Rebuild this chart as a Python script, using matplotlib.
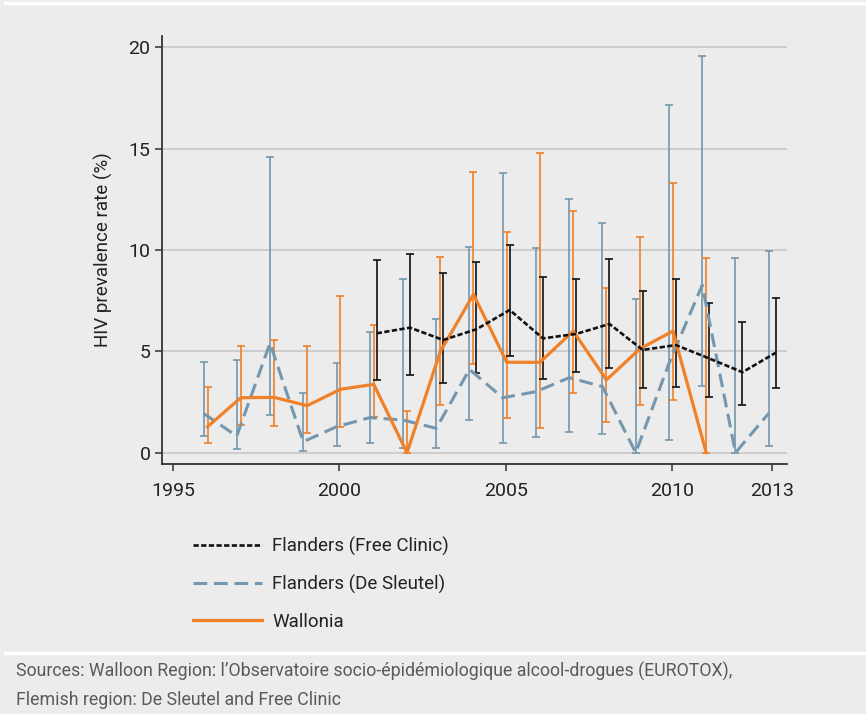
import matplotlib.pyplot as plt
import numpy as np
from matplotlib.lines import Line2D

# values (HIV prevalence %, with CI bounds)
fc_years = np.arange(2001, 2014)
fc = [5.89, 6.17, 5.56, 6.09, 7.04, 5.64, 5.86, 6.35, 5.07, 5.31, 4.65, 3.97, 4.93]
fc_lo = [3.60, 3.85, 3.45, 3.92, 4.79, 3.64, 3.97, 4.19, 3.21, 3.26, 2.76, 2.35, 3.21]
fc_hi = [9.51, 9.79, 8.85, 9.42, 10.25, 8.65, 8.58, 9.54, 8.00, 8.58, 7.40, 6.46, 7.65]

ds_years = np.arange(1996, 2014)
ds = [1.94, 0.82, 5.40, 0.54, 1.28, 1.73, 1.61, 1.20, 4.11, 2.71, 3.01, 3.70, 3.26, 0.0, 4.40, 8.27, 0.0, 1.94]
ds_lo = [0.84, 0.17, 1.84, 0.10, 0.35, 0.46, 0.25, 0.22, 1.61, 0.49, 0.79, 1.00, 0.91, 0.0, 0.63, 3.29, 0.0, 0.35]
ds_hi = [4.49, 4.57, 14.60, 2.96, 4.41, 5.97, 8.58, 6.58, 10.13, 13.81, 10.11, 12.52, 11.35, 7.57, 17.15, 19.57, 9.62, 9.95]

wa_years = np.arange(1996, 2012)
wa = [1.28, 2.71, 2.73, 2.32, 3.13, 3.37, 0.0, 4.98, 7.81, 4.46, 4.46, 6.00, 3.59, 5.12, 6.00, 0.0]
wa_lo = [0.49, 1.37, 1.33, 0.99, 1.25, 1.78, 0.0, 2.35, 4.36, 1.73, 1.23, 2.96, 1.53, 2.35, 2.60, 0.0]
wa_hi = [3.22, 5.26, 5.56, 5.28, 7.75, 6.30, 2.07, 9.67, 13.86, 10.87, 14.80, 11.92, 8.14, 10.62, 13.32, 9.62]

labels = ['Flanders (Free Clinic)', 'Flanders (De Sleutel)', 'Wallonia']
x_ticks = [1995, 2000, 2005, 2010, 2013]
y_ticks = [0, 5, 10, 15, 20]

BG = '#EBECEB'
C_FC = '#111111'
C_DS = '#7497AF'
C_WA = '#F08128'

plt.rcParams['font.family'] = ['Roboto', 'DejaVu Sans']

fig = plt.figure(figsize=(8.66, 7.14), dpi=100, facecolor=BG)
ax = fig.add_axes([0.1874, 0.3501, 0.7210, 0.5995])
ax.set_facecolor(BG)

def band(a, lo, hi):
    a, lo, hi = np.array(a), np.array(lo), np.array(hi)
    return [a - lo, hi - a]

ekw = dict(fmt='none', elinewidth=1.2, capsize=3.2, capthick=1.2)
ax.errorbar(ds_years - 0.09, ds, yerr=band(ds, ds_lo, ds_hi), ecolor=C_DS, zorder=2, **ekw)
ax.errorbar(wa_years + 0.03, wa, yerr=band(wa, wa_lo, wa_hi), ecolor=C_WA, zorder=3, **ekw)
ax.errorbar(fc_years + 0.12, fc, yerr=band(fc, fc_lo, fc_hi), ecolor=C_FC, zorder=4, **ekw)

ax.plot(ds_years - 0.09, ds, color=C_DS, lw=2.2, dashes=(4.5, 2.2), zorder=5)
ax.plot(wa_years + 0.03, wa, color=C_WA, lw=2.3, zorder=6)
ax.plot(fc_years + 0.12, fc, color=C_FC, lw=1.9, dashes=(2, 0.9), zorder=7)

ax.set_xlim(1994.67, 2013.45)
ax.set_ylim(-0.56, 20.56)
ax.set_xticks(x_ticks)
ax.set_yticks(y_ticks)
ax.yaxis.grid(True, color='#C9CAC9', lw=1.3)
ax.set_axisbelow(True)
for s in ['top', 'right']:
    ax.spines[s].set_visible(False)
for s in ['left', 'bottom']:
    ax.spines[s].set_color('#333333')
    ax.spines[s].set_linewidth(1.3)
ax.tick_params(axis='both', colors='#333333', labelcolor='#222222', labelsize=14,
               length=5, width=1.1)
ax.tick_params(axis='x', pad=8)
ax.set_ylabel('HIV prevalence rate (%)', fontsize=13.5, color='#222222', labelpad=11)

handles = [
    Line2D([], [], color=C_FC, lw=1.9, dashes=(2, 0.9)),
    Line2D([], [], color=C_DS, lw=2.2, dashes=(4.5, 2.2)),
    Line2D([], [], color=C_WA, lw=2.3),
]
fig.legend(handles, labels, loc='upper left', bbox_to_anchor=(0.203, 0.272),
           frameon=False, fontsize=13.5, handlelength=3.7, handletextpad=0.55,
           labelspacing=1.0, labelcolor='#222222')

# white separators and source note
fig.add_artist(Line2D([0.006, 1], [0.996, 0.996], color='white', lw=2.5, transform=fig.transFigure))
fig.add_artist(Line2D([0.006, 1], [0.0855, 0.0855], color='white', lw=2.5, transform=fig.transFigure))
fig.text(0.018, 0.059, "Sources: Walloon Region: l\u2019Observatoire socio-\u00e9pid\u00e9miologique alcool-drogues (EUROTOX),",
         fontsize=12.8, color='#5a5a5a', va='center')
fig.text(0.018, 0.020, 'Flemish region: De Sleutel and Free Clinic',
         fontsize=12.8, color='#5a5a5a', va='center')

fig.savefig('out.png', dpi=100, facecolor=BG)
